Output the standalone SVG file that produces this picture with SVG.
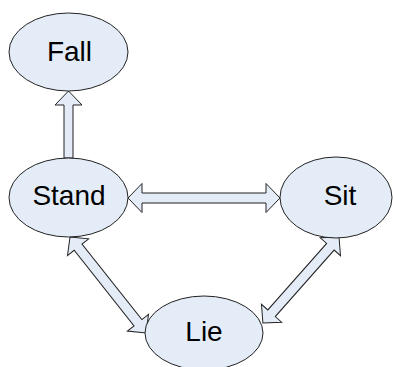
<svg xmlns="http://www.w3.org/2000/svg" width="393" height="367" viewBox="0 0 393 367">
  <style>
    .node ellipse { fill: #e4ecf7; stroke: #222; stroke-width: 1; }
    .node text { font-family: "Liberation Sans", Arial, sans-serif; font-size: 28px; fill: #000; text-anchor: middle; }
    .arrow { fill: #e4ecf7; stroke: #222; stroke-width: 1; stroke-linejoin: miter; }
  </style>
  <rect width="393" height="367" fill="#fff"/>

  <!-- block arrows between states -->
  <g id="connectors">
    <!-- Stand -> Fall -->
    <path class="arrow" transform="translate(68.5,91) rotate(90)" d="M0,0 L14,-13.5 L14,-4.5 L67,-4.5 L67,4.5 L14,4.5 L14,13.5 Z"/>
    <!-- Stand <-> Sit -->
    <path class="arrow" transform="translate(128,198)" d="M0,0 L14,-14.5 L14,-5 L138,-5 L138,-14.5 L152,0 L138,14.5 L138,5 L14,5 L14,14.5 Z"/>
    <!-- Stand <-> Lie -->
    <path class="arrow" transform="translate(70,237) rotate(51.6)" d="M0,0 L13,-13.5 L13,-5 L109.4,-5 L109.4,-13.5 L122.4,0 L109.4,13.5 L109.4,5 L13,5 L13,13.5 Z"/>
    <!-- Sit <-> Lie -->
    <path class="arrow" transform="translate(339,237) rotate(131.5)" d="M0,0 L13,-13.5 L13,-5 L101.8,-5 L101.8,-13.5 L114.8,0 L101.8,13.5 L101.8,5 L13,5 L13,13.5 Z"/>
  </g>

  <g id="fall" class="node">
    <ellipse cx="68.5" cy="52" rx="59.5" ry="39"/>
    <text x="69.5" y="61">Fall</text>
  </g>
  <g id="stand" class="node">
    <ellipse cx="68.5" cy="197.5" rx="59.5" ry="39.5"/>
    <text x="69" y="205">Stand</text>
  </g>
  <g id="sit" class="node">
    <ellipse cx="336" cy="197.5" rx="56" ry="40.5"/>
    <text x="340" y="205">Sit</text>
  </g>
  <g id="lie" class="node">
    <ellipse cx="204" cy="333" rx="59" ry="37"/>
    <text x="204" y="341">Lie</text>
  </g>
</svg>
